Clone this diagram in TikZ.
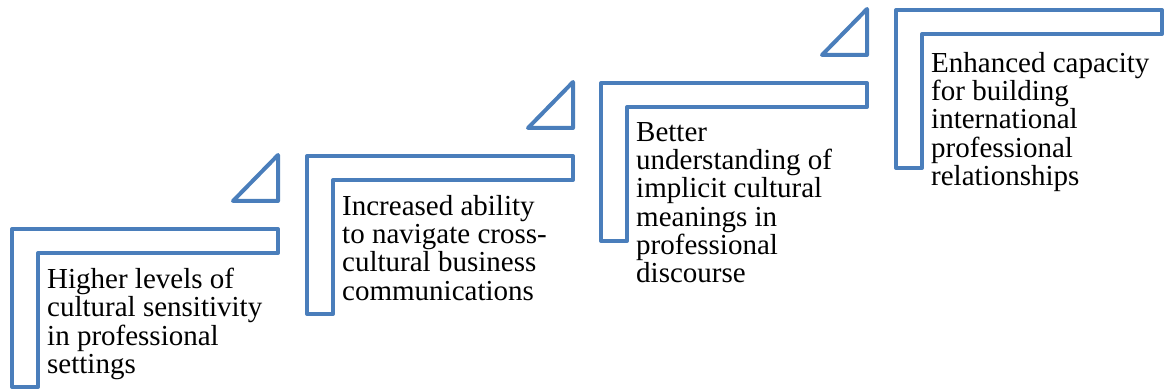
\documentclass[tikz,border=0pt]{standalone}
\usepackage{fontspec}
\setmainfont{Liberation Serif}
\definecolor{stepblue}{HTML}{4A7EBB}

\begin{document}
\begin{tikzpicture}[x=1pt,y=-1pt]
  \tikzstyle{stepline}=[draw=stepblue,line width=4pt,line join=round]
  \tikzstyle{steptext}=[anchor=north west,inner sep=0pt,align=left,font=\fontsize{29}{28.3}\selectfont]

  \useasboundingbox (0,0) rectangle (1167,390);

  % Step 1
  \draw[stepline] (12,229) -- ++(266,0) -- ++(0,24) -- ++(-240,0) -- ++(0,134) -- ++(-26,0) -- cycle;
  \draw[stepline] (233,201) -- ++(45,0) -- ++(0,-46) -- cycle;
  \node[steptext] (higher) at (47,268) {Higher levels of\\cultural sensitivity\\in professional\\settings};

  % Step 2
  \draw[stepline] (307,156) -- ++(266,0) -- ++(0,24) -- ++(-240,0) -- ++(0,134) -- ++(-26,0) -- cycle;
  \draw[stepline] (528,128) -- ++(45,0) -- ++(0,-46) -- cycle;
  \node[steptext] (increased) at (342,195) {Increased ability\\to navigate cross-\\cultural business\\communications};

  % Step 3
  \draw[stepline] (601,83) -- ++(266,0) -- ++(0,24) -- ++(-240,0) -- ++(0,134) -- ++(-26,0) -- cycle;
  \draw[stepline] (822,55) -- ++(45,0) -- ++(0,-46) -- cycle;
  \node[steptext] (better) at (636,122) {Better\\understanding of\\implicit cultural\\meanings in\\professional\\discourse};

  % Step 4
  \draw[stepline] (896,10) -- ++(266,0) -- ++(0,24) -- ++(-240,0) -- ++(0,134) -- ++(-26,0) -- cycle;
  \node[steptext] (enhanced) at (931,52) {Enhanced capacity\\for building\\international\\professional\\relationships};

\end{tikzpicture}
\end{document}
